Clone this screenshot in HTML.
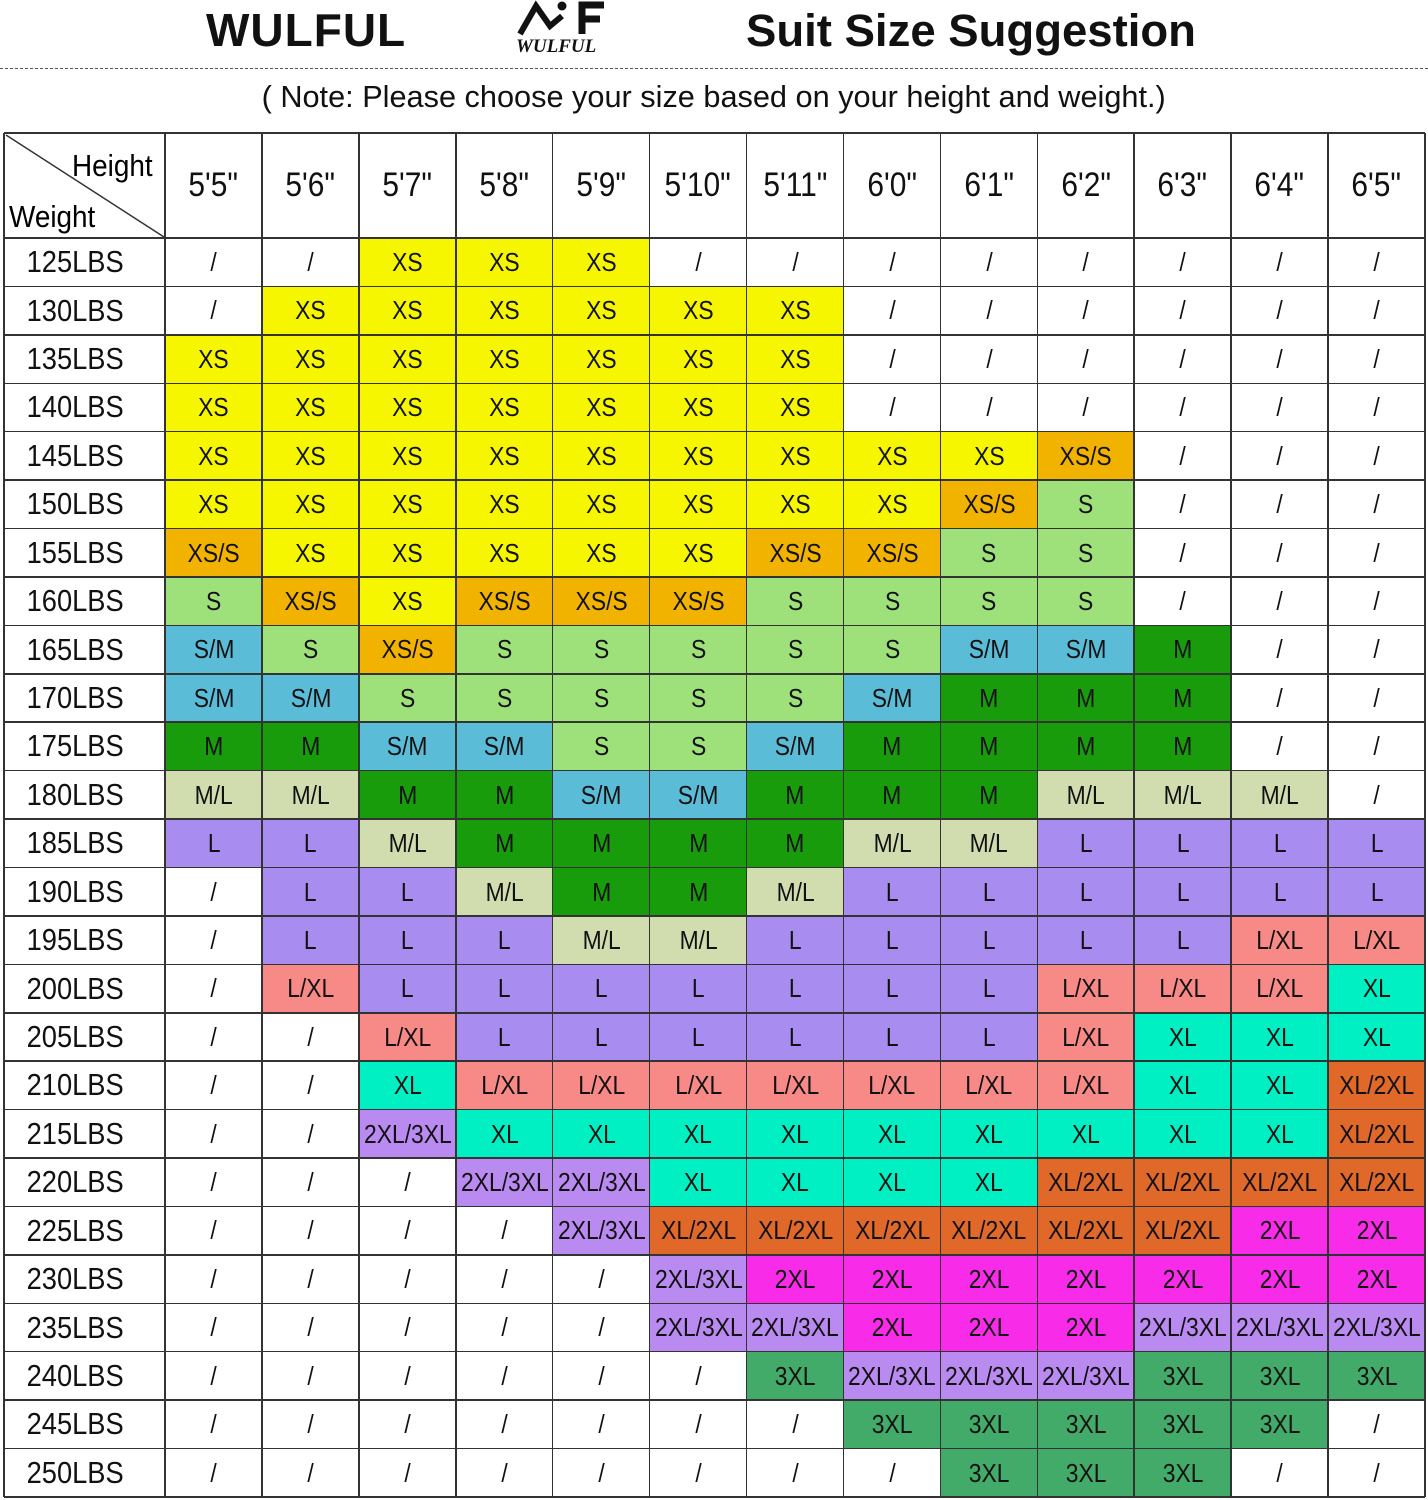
<!DOCTYPE html>
<html><head><meta charset="utf-8">
<style>
body{margin:0;width:1428px;height:1500px;background:#fff;position:relative;overflow:hidden;font-family:"Liberation Sans",Arial,sans-serif;color:#111}
.a{position:absolute}
.c{position:absolute;box-sizing:border-box;display:flex;align-items:center;justify-content:center;white-space:nowrap}
.c span{display:inline-block;transform:scaleX(0.88)}
.l{position:absolute;background:#333}
</style></head><body>
<div class="a" style="left:206px;top:3px;font-size:46px;font-weight:bold;letter-spacing:1px">WULFUL</div>
<svg class="a" style="left:512px;top:0" width="100" height="58">
<path d="M8 34 L24 6 L38 26 L50 16" stroke="#111" stroke-width="6" fill="none"/>
<circle cx="50" cy="6" r="4.5" fill="#111"/>
<path d="M70 34 V5 H92 M70 19 H88" stroke="#111" stroke-width="7" fill="none"/>
<text x="4" y="52" font-family="Liberation Serif" font-style="italic" font-weight="bold" font-size="19" fill="#111">WULFUL</text>
</svg>
<div class="a" style="left:746px;top:5px;font-size:45.5px;font-weight:bold">Suit Size Suggestion</div>
<div class="a" style="left:0;top:68px;width:1428px;border-top:1.5px dashed #555"></div>
<div class="a" style="left:0;width:1428px;top:79px;text-align:center;font-size:31px;line-height:36px"><span style="display:inline-block;transform:scaleX(0.99)">( Note: Please choose your size based on your height and weight.)</span></div>
<div id="t"></div>
<script>
var C={"XS":"#f6f600","XS/S":"#f2b300","S":"#9ee07a","S/M":"#5bbcd8","M":"#189c0c","M/L":"#d1ddae","L":"#a98cf0","L/XL":"#f78a86","XL":"#00f0c4","XL/2XL":"#e0692a","2XL":"#f82ce8","2XL/3XL":"#b98af0","3XL":"#42ab6a","/":"#fff"};
var H=["5'5\"","5'6\"","5'7\"","5'8\"","5'9\"","5'10\"","5'11\"","6'0\"","6'1\"","6'2\"","6'3\"","6'4\"","6'5\""];
var R=[
"/ / XS XS XS / / / / / / / /",
"/ XS XS XS XS XS XS / / / / / /",
"XS XS XS XS XS XS XS / / / / / /",
"XS XS XS XS XS XS XS / / / / / /",
"XS XS XS XS XS XS XS XS XS XS/S / / /",
"XS XS XS XS XS XS XS XS XS/S S / / /",
"XS/S XS XS XS XS XS XS/S XS/S S S / / /",
"S XS/S XS XS/S XS/S XS/S S S S S / / /",
"S/M S XS/S S S S S S S/M S/M M / /",
"S/M S/M S S S S S S/M M M M / /",
"M M S/M S/M S S S/M M M M M / /",
"M/L M/L M M S/M S/M M M M M/L M/L M/L /",
"L L M/L M M M M M/L M/L L L L L",
"/ L L M/L M M M/L L L L L L L",
"/ L L L M/L M/L L L L L L L/XL L/XL",
"/ L/XL L L L L L L L L/XL L/XL L/XL XL",
"/ / L/XL L L L L L L L/XL XL XL XL",
"/ / XL L/XL L/XL L/XL L/XL L/XL L/XL L/XL XL XL XL/2XL",
"/ / 2XL/3XL XL XL XL XL XL XL XL XL XL XL/2XL",
"/ / / 2XL/3XL 2XL/3XL XL XL XL XL XL/2XL XL/2XL XL/2XL XL/2XL",
"/ / / / 2XL/3XL XL/2XL XL/2XL XL/2XL XL/2XL XL/2XL XL/2XL 2XL 2XL",
"/ / / / / 2XL/3XL 2XL 2XL 2XL 2XL 2XL 2XL 2XL",
"/ / / / / 2XL/3XL 2XL/3XL 2XL 2XL 2XL 2XL/3XL 2XL/3XL 2XL/3XL",
"/ / / / / / 3XL 2XL/3XL 2XL/3XL 2XL/3XL 3XL 3XL 3XL",
"/ / / / / / / 3XL 3XL 3XL 3XL 3XL /",
"/ / / / / / / / 3XL 3XL 3XL / /"];
var h='',x0=4,x1=165,cw=(1425-165)/13,y0=133,y1=238,rh=(1497-238)/26;
function cell(l,t,w,ht,bg,txt,fs){h+='<div class="c" style="left:'+l+'px;top:'+t+'px;width:'+w+'px;height:'+ht+'px;background:'+bg+(fs?';font-size:'+fs+'px':'')+'"><span>'+txt+'</span></div>';}
h+='<svg class="a" style="left:4px;top:133px" width="161" height="105"><line x1="2" y1="2" x2="160" y2="104" stroke="#333" stroke-width="1.5"/><text x="68" y="43" font-size="31" font-family="Liberation Sans" transform="translate(68 43) scale(0.9,1) translate(-68 -43)">Height</text><text x="5" y="94" font-size="31" font-family="Liberation Sans" transform="translate(5 94) scale(0.9,1) translate(-5 -94)">Weight</text></svg>';
for(var j=0;j<13;j++)cell(x1+j*cw,y0,cw,y1-y0,'#fff',H[j],34);
for(var i=0;i<26;i++){var y=y1+i*rh;cell(x0,y,x1-x0-18,rh,'#fff',(125+5*i)+'LBS',31);
var r=R[i].split(' ');for(var j=0;j<13;j++)cell(x1+j*cw,y,cw+0.6,rh+0.6,C[r[j]],r[j],26);}
for(var i=0;i<=27;i++){var y=i==0?y0:y1+(i-1)*rh;h+='<div class="l" style="left:'+x0+'px;top:'+(y-0.75)+'px;width:'+(1425-x0)+'px;height:'+(i==0?2:1.5)+'px"></div>';}
var xs=[x0];for(var j=0;j<=13;j++)xs.push(x1+j*cw);
xs.forEach(function(x){h+='<div class="l" style="left:'+(x-0.75)+'px;top:'+y0+'px;width:1.5px;height:'+(1497-y0)+'px"></div>';});
document.getElementById('t').innerHTML=h;
</script>
</body></html>
